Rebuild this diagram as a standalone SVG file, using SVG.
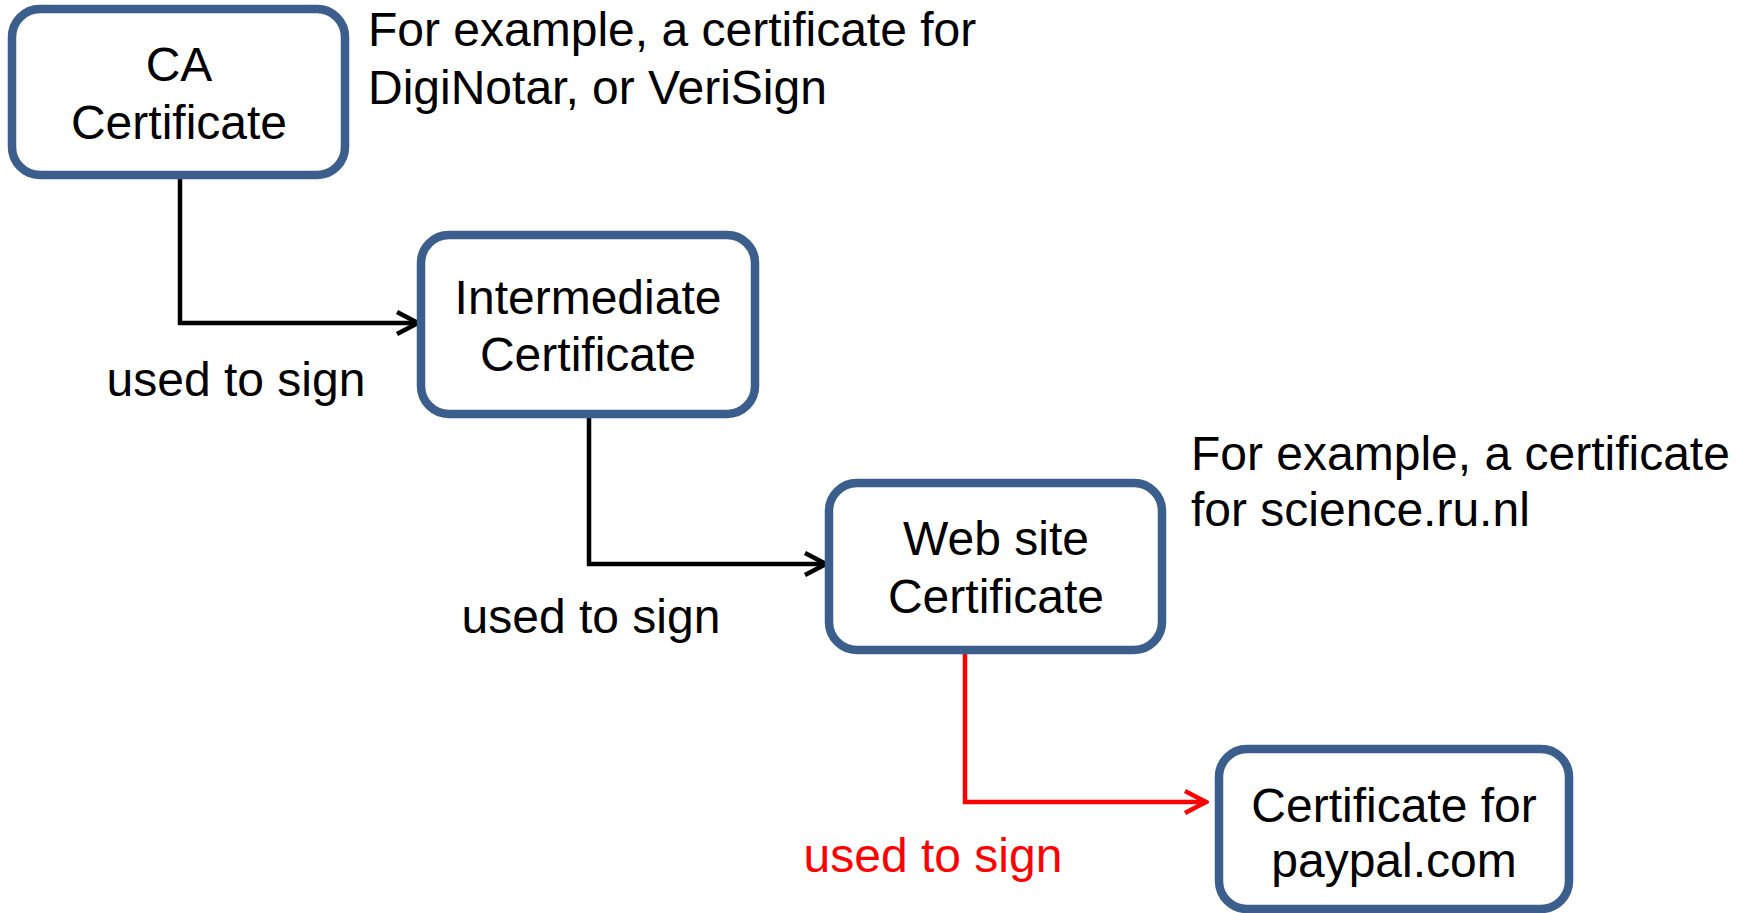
<svg xmlns="http://www.w3.org/2000/svg" width="1748" height="913" viewBox="0 0 1748 913">
  <style>
    text { font-family: "Liberation Sans", Arial, sans-serif; font-size: 48px; fill: #000; }
    .c { text-anchor: middle; }
    .red { fill: #FF0000; }
    .box { fill: #FFFFFF; stroke: #3B5E8C; stroke-width: 8.5; }
    .conn { fill: none; stroke: #000; stroke-width: 4.5; }
    .conn.hot { stroke: #FF0000; }
  </style>
  <defs>
    <marker id="chev" viewBox="0 0 26 28" refX="24" refY="14" markerWidth="26" markerHeight="28" markerUnits="userSpaceOnUse" orient="auto">
      <path d="M2,3 L23,14 L2,25" fill="none" stroke="#000" stroke-width="4.5"/>
    </marker>
    <marker id="chevRed" viewBox="0 0 26 28" refX="24" refY="14" markerWidth="26" markerHeight="28" markerUnits="userSpaceOnUse" orient="auto">
      <path d="M2,3 L23,14 L2,25" fill="none" stroke="#FF0000" stroke-width="4.5"/>
    </marker>
  </defs>

  <g id="connectors">
    <path class="conn" d="M180,175 V323 H419" marker-end="url(#chev)"/>
    <path class="conn" d="M589,414 V564 H827" marker-end="url(#chev)"/>
    <path class="conn hot" d="M965,650 V802 H1207" marker-end="url(#chevRed)"/>
  </g>

  <g id="ca-cert">
    <rect class="box" x="12" y="9" width="333" height="166" rx="28"/>
    <text class="c" x="179" y="81">CA</text>
    <text class="c" x="179" y="139">Certificate</text>
  </g>

  <g id="ca-note">
    <text x="368" y="46">For example, a certificate for</text>
    <text x="368" y="104">DigiNotar, or VeriSign</text>
  </g>

  <g id="intermediate-cert">
    <rect class="box" x="421" y="235" width="334" height="179" rx="28"/>
    <text class="c" x="588" y="314">Intermediate</text>
    <text class="c" x="588" y="371">Certificate</text>
  </g>

  <g id="label-sign-1">
    <text class="c" x="236" y="396">used to sign</text>
  </g>

  <g id="website-cert">
    <rect class="box" x="829" y="483" width="333" height="167" rx="28"/>
    <text class="c" x="996" y="555">Web site</text>
    <text class="c" x="996" y="613">Certificate</text>
  </g>

  <g id="label-sign-2">
    <text class="c" x="591" y="633">used to sign</text>
  </g>

  <g id="website-note">
    <text x="1191" y="470">For example, a certificate</text>
    <text x="1191" y="526">for science.ru.nl</text>
  </g>

  <g id="label-sign-3">
    <text class="c red" x="933" y="872">used to sign</text>
  </g>

  <g id="paypal-cert">
    <rect class="box" x="1219" y="749" width="350" height="160" rx="28"/>
    <text class="c" x="1394" y="822">Certificate for</text>
    <text class="c" x="1394" y="877">paypal.com</text>
  </g>
</svg>
